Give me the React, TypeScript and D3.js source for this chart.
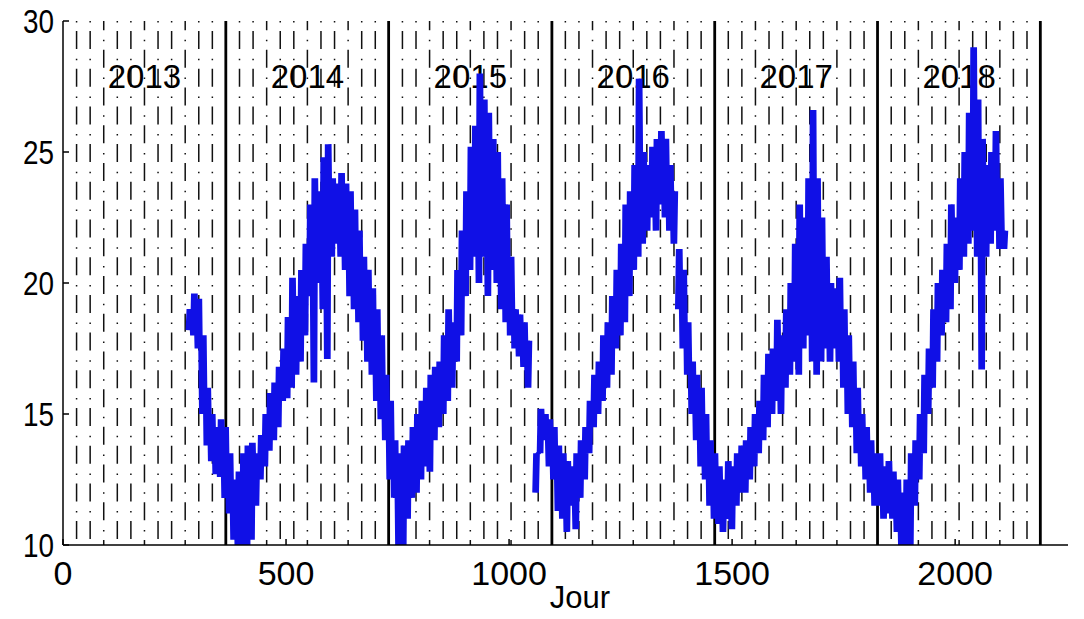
import React from "react";
import * as d3 from "d3";

// days since start (0 = 1 Jan 2013), 10-day steps, low/high of the daily band
const seg1Start = 280;
const seg1Low = [18.2, 18.0, 17.5, 15.0, 13.8, 13.2, 12.7, 12.6, 11.8, 11.2, 10.2, 9.5, 9.5, 9.8, 10.2, 11.5, 12.5, 13.0, 13.6, 14.0, 14.5, 15.5, 15.6, 16.0, 16.5, 17.0, 18.0, 19.5, 16.2, 20.0, 19.0, 17.1, 21.0, 21.5, 21.0, 20.5, 19.5, 19.0, 18.5, 17.8, 17.0, 16.5, 15.5, 14.8, 14.0, 12.5, 11.8, 9.5, 9.5, 11.0, 11.8, 12.0, 12.5, 13.0, 12.8, 14.0, 14.5, 15.0, 15.5, 16.0, 17.0, 18.0, 19.5, 20.5, 21.0, 20.0, 21.0, 19.5, 20.5, 20.0, 19.0, 18.5, 18.0, 17.5, 17.2, 16.8, 16.0];
const seg1High = [19.0, 19.6, 19.4, 18.0, 16.0, 15.0, 14.5, 14.8, 14.5, 13.5, 12.5, 12.8, 13.5, 13.8, 13.9, 13.5, 14.2, 15.0, 15.8, 16.2, 16.8, 17.5, 18.7, 20.2, 19.5, 20.5, 21.5, 23.0, 24.0, 23.5, 24.8, 25.3, 24.0, 23.8, 24.2, 23.8, 23.5, 22.8, 22.0, 21.0, 20.5, 19.8, 19.0, 18.0, 16.5, 15.5, 14.0, 13.5, 13.8, 14.0, 14.5, 15.0, 15.5, 16.0, 16.5, 16.8, 17.0, 18.0, 19.0, 18.5, 20.5, 22.0, 23.5, 25.2, 26.0, 28.0, 27.0, 26.5, 25.5, 25.0, 24.0, 23.0, 21.0, 19.0, 18.8, 18.5, 17.8];

const seg2Start = 1057;
const seg2Low = [12.0, 13.5, 14.0, 13.0, 12.5, 11.3, 11.0, 10.5, 11.5, 10.6, 11.8, 12.5, 13.5, 14.5, 15.0, 15.5, 16.0, 16.5, 17.5, 18.0, 18.5, 19.5, 20.5, 21.0, 21.5, 22.0, 22.5, 22.0, 23.0, 22.5, 22.0, 21.5];
const seg2High = [13.5, 15.2, 15.0, 14.8, 14.5, 13.8, 13.5, 13.2, 13.0, 13.5, 14.0, 14.5, 15.5, 16.5, 17.0, 18.0, 18.5, 19.5, 20.5, 21.5, 23.0, 23.5, 24.5, 27.8, 25.0, 24.5, 25.2, 25.5, 25.8, 25.5, 24.5, 23.5];

const seg3Start = 1377;
const seg3Low = [19.0, 17.5, 16.5, 15.0, 14.0, 13.0, 12.5, 11.5, 11.0, 10.8, 10.5, 11.0, 10.6, 11.5, 12.0, 12.0, 12.5, 13.0, 13.5, 14.0, 14.5, 15.0, 15.5, 15.0, 16.0, 16.5, 17.0, 16.5, 17.5, 18.0, 17.0, 16.5, 17.0, 17.5, 17.0, 17.5, 17.0, 16.0, 15.0, 14.5, 13.5, 13.0, 12.5, 12.0, 11.5, 11.5, 11.0, 11.2, 11.0, 10.5, 10.0, 9.5, 10.0, 11.5, 12.5, 13.5, 15.0, 16.0, 17.0, 18.0, 18.5, 19.0, 20.0, 20.5, 21.0, 21.5, 22.0, 21.0, 16.7, 21.0, 21.5, 22.0, 21.3, 21.3];
const seg3High = [21.3, 20.5, 18.5, 17.0, 16.5, 16.0, 15.0, 14.0, 13.5, 13.0, 12.5, 13.2, 13.0, 13.5, 13.8, 14.0, 14.5, 15.0, 15.5, 16.5, 17.3, 17.5, 18.6, 18.0, 19.0, 20.0, 21.5, 23.0, 22.5, 24.0, 26.6, 24.0, 22.5, 21.0, 20.0, 19.8, 20.2, 19.0, 18.0, 17.0, 16.0, 15.0, 14.5, 14.0, 13.5, 13.5, 13.0, 13.2, 12.8, 12.5, 12.0, 12.5, 13.5, 14.0, 15.0, 16.5, 17.5, 19.0, 20.0, 20.5, 21.5, 23.0, 22.5, 24.0, 25.0, 26.5, 29.0, 27.0, 25.5, 24.5, 25.0, 25.8, 24.0, 22.0];

const yearBounds = [365, 730, 1096, 1461, 1826, 2191];
const yearLabels = ["2013", "2014", "2015", "2016", "2017", "2018"];
const xTicks = [0, 500, 1000, 1500, 2000];
const yTicks = [10, 15, 20, 25, 30];

const W = 1084;
const H = 619;
const left = 63;
const right = 1068;
const top = 21;
const bottom = 545;

type Pt = { day: number; v: number };

// low at the start of each 10-day step, high two days later
function band(start: number, lo: number[], hi: number[]): Pt[] {
  const out: Pt[] = [];
  lo.forEach((l, i) => {
    out.push({ day: start + i * 10, v: l });
    out.push({ day: start + i * 10 + 2, v: hi[i] });
    out.push({ day: start + i * 10 + 5, v: l });
    out.push({ day: start + i * 10 + 7, v: hi[i] });
  });
  return out;
}

export default function App() {
  const x = d3.scaleLinear().domain([0, 2253]).range([left, right]);
  const y = d3.scaleLinear().domain([10, 30]).range([bottom, top]);

  const gap: Pt = { day: NaN, v: NaN };
  const pts: Pt[] = [
    ...band(seg1Start, seg1Low, seg1High),
    gap,
    ...band(seg2Start, seg2Low, seg2High),
    gap,
    ...band(seg3Start, seg3Low, seg3High),
  ];

  const line = d3
    .line<Pt>()
    .defined((d) => !isNaN(d.v))
    .x((d) => x(d.day))
    .y((d) => y(d.v));

  // month grid lines, 11 per year
  const months: { day: number; quarter: boolean }[] = [];
  for (let k = 0; k < 6; k++) {
    for (let m = 1; m < 12; m++) {
      months.push({ day: k * 365.25 + (m * 365.25) / 12, quarter: m % 3 === 0 });
    }
  }

  const font = "'Liberation Sans', Arial, sans-serif";

  return (
    <svg
      width={W}
      height={H}
      style={{ position: "absolute", left: 0, top: 0, background: "#fff" }}
    >
      <defs>
        <clipPath id="plot">
          <rect x={left} y={top} width={right - left} height={bottom - top} />
        </clipPath>
      </defs>

      {months.map((m, i) => (
        <line
          key={"m" + i}
          x1={x(m.day)}
          x2={x(m.day)}
          y1={top}
          y2={bottom}
          stroke="#111"
          strokeWidth={1.5}
          strokeDasharray="1.5,8.5,18,9.7"
          strokeDashoffset={m.quarter ? 18.85 : 0}
        />
      ))}

      {yearBounds.map((d) => (
        <line
          key={"y" + d}
          x1={x(d)}
          x2={x(d)}
          y1={top}
          y2={bottom}
          stroke="#000"
          strokeWidth={2.8}
        />
      ))}

      {yearLabels.map((t, i) => (
        <text
          key={t}
          x={x((i + 0.5) * 365.25)}
          y={88}
          textAnchor="middle"
          fontFamily={font}
          fontSize={33}
          fill="#000"
        >
          {t}
        </text>
      ))}

      <path
        d={line(pts) || ""}
        fill="none"
        stroke="#1010e6"
        strokeWidth={4.5}
        strokeLinejoin="bevel"
        clipPath="url(#plot)"
      />

      <line x1={left} x2={left} y1={top} y2={bottom} stroke="#000" strokeWidth={1.5} />
      <line x1={left} x2={right} y1={bottom} y2={bottom} stroke="#000" strokeWidth={1.5} />

      {yTicks.map((t) => (
        <g key={"yt" + t}>
          <line x1={left} x2={left + 6} y1={y(t)} y2={y(t)} stroke="#000" strokeWidth={1.5} />
          <text
            transform={`translate(54,${y(t) + 12}) scale(0.82,1)`}
            textAnchor="end"
            fontFamily={font}
            fontSize={34}
            fill="#000"
          >
            {t}
          </text>
        </g>
      ))}

      {xTicks.map((t) => (
        <g key={"xt" + t}>
          <line x1={x(t)} x2={x(t)} y1={bottom} y2={bottom - 6} stroke="#000" strokeWidth={1.5} />
          <text
            x={x(t)}
            y={585}
            textAnchor="middle"
            fontFamily={font}
            fontSize={34}
            fill="#000"
          >
            {t}
          </text>
        </g>
      ))}

      <text x={580} y={608} textAnchor="middle" fontFamily={font} fontSize={31} fill="#000">
        Jour
      </text>
    </svg>
  );
}
